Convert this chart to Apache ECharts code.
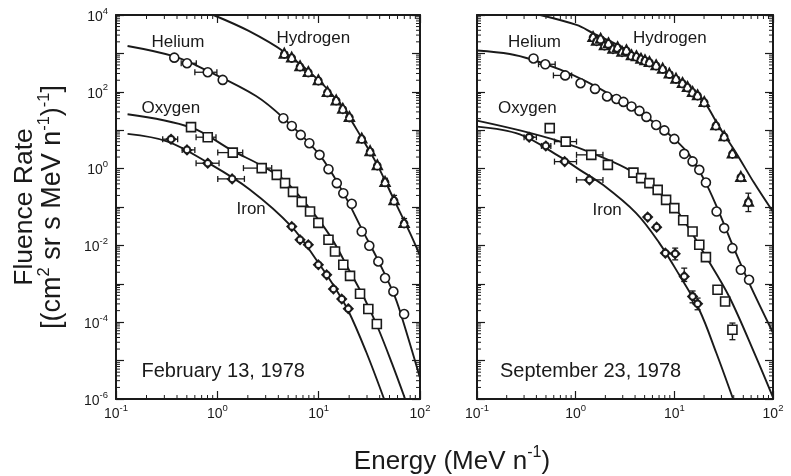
<!DOCTYPE html>
<html>
<head>
<meta charset="utf-8">
<title>Fluence rate spectra, 1978</title>
<script src="https://cdn.jsdelivr.net/npm/echarts@6/dist/echarts.min.js"></script>
<style>
  html, body { margin: 0; padding: 0; background: #ffffff; }
  #chart { width: 791px; height: 476px; }
</style>
</head>
<body>
<div id="chart"></div>
<script>
// ---- axis ranges and tick values ----
const X_RANGE = [0.1, 100];
const Y_RANGE = [1e-6, 1e4];
const xDecades = [0.1, 1, 10, 100];
const yDecades = [1e-6, 1e-5, 1e-4, 1e-3, 1e-2, 1e-1, 1, 10, 100, 1e3, 1e4];
const minorSteps = [2, 3, 4, 5, 6, 7, 8, 9];

// ---- February 13, 1978: fitted spectra [energy, fluence rate] ----
const febHydrogenFit = [[0.913, 1e4], [2.04, 3840], [4.58, 1090], [9.93, 204], [17.3, 38], [26.6, 6.3], [37.9, 1.25], [55.5, 0.153], [79.8, 0.0208], [100, 0.0054]];
const febHeliumFit = [[0.13, 1560], [0.376, 832], [0.804, 349], [2.41, 78], [4.48, 20.9], [10.2, 2.28], [17.5, 0.233], [26.6, 0.027], [38.8, 0.00397], [54.6, 5.83e-4], [63.7, 1.87e-4], [100, 3.58e-6]];
const febOxygenFit = [[0.13, 26.1], [0.55, 11.8], [1.42, 2.89], [2.76, 1.18], [4.66, 0.479], [8.22, 0.0895], [12.96, 0.0177], [20.4, 0.00206], [28.7, 3.84e-4], [38.8, 6.75e-5], [53.0, 8.3e-6], [71.3, 1e-6]];
const febIronFit = [[0.13, 8.0], [0.324, 5.05], [0.804, 1.43], [2.07, 0.291], [5.43, 0.0304], [9.93, 0.00352], [13.9, 9.4e-4], [19.6, 1.99e-4], [29.4, 1.7e-5], [44.2, 1e-6]];

// ---- February 13, 1978: measurements ----
const febHydrogen = [[4.58, 1007], [5.42, 794], [6.55, 471], [7.91, 335], [9.93, 204], [12.2, 101], [14.9, 61], [17.3, 37], [20.1, 22.6], [26.6, 6.2], [32.2, 2.9], [37.9, 1.25], [45.2, 0.46], [55.5, 0.153], [69.7, 0.039]];
const febHelium = [[0.376, 774], [0.502, 554], [0.804, 323], [1.13, 204], [4.48, 20.5], [5.43, 12.9], [6.65, 7.54], [8.09, 4.59], [10.2, 2.28], [12.5, 0.966], [15.1, 0.418], [17.5, 0.229], [21.2, 0.121], [26.6, 0.023], [31.6, 0.00975], [38.8, 0.00381], [45.2, 0.00141], [54.6, 6.3e-4], [69.7, 1.63e-4]];
const febOxygen = [[0.55, 12.0], [0.804, 6.57], [1.42, 2.61], [2.74, 1.03], [3.86, 0.687], [4.66, 0.418], [5.58, 0.248], [6.81, 0.136], [8.22, 0.0762], [9.93, 0.0387], [12.5, 0.014], [14.5, 0.00693], [17.5, 0.00313], [20.4, 0.00161], [25.6, 5.5e-4], [30.9, 2.2e-4], [37.5, 8.95e-5]];
const febIron = [[0.349, 5.83], [0.502, 3.07], [0.804, 1.38], [1.40, 0.54], [5.43, 0.031], [6.55, 0.014], [7.91, 0.01035], [9.93, 0.00313], [12.0, 0.00171], [14.0, 7.3e-4], [16.9, 4.0e-4], [19.6, 2.24e-4]];

// energy-bin widths [energy, rate, low, high] and rate uncertainties [energy, rate, low, high]
const febEnergyBars = [[0.502, 554, 0.44, 0.62], [0.804, 323, 0.60, 0.99], [0.804, 6.57, 0.617, 0.97], [1.42, 2.61, 1.01, 1.78], [2.74, 1.03, 1.81, 3.44], [0.349, 5.83, 0.289, 0.406], [0.502, 3.07, 0.45, 0.60], [0.804, 1.38, 0.617, 1.04], [1.40, 0.54, 1.01, 1.85]];
const febRateBars = [[45.2, 0.46, 0.38, 0.56], [55.5, 0.153, 0.12, 0.2], [69.7, 0.039, 0.03, 0.05]];

// ---- September 23, 1978: fitted spectra ----
const sepHydrogenFit = [[0.436, 1e4], [1.02, 5500], [1.51, 3340], [2.80, 1560], [4.83, 716], [10.4, 236], [14.2, 134], [20.1, 54.5], [28.5, 12.2], [42.3, 2.56], [64.3, 0.425], [100, 0.0748]];
const sepHeliumFit = [[0.1, 1192], [0.215, 966], [0.359, 695], [0.689, 382], [1.29, 184], [2.59, 68], [4.10, 31.8], [6.54, 14.6], [10, 5.93], [14.2, 2.27], [20.1, 0.508], [26.4, 0.114], [38.8, 0.0104], [57.2, 0.00106], [100, 5.31e-5]];
const sepOxygenFit = [[0.1, 17.8], [0.272, 9.88], [0.689, 5.11], [1.45, 2.56], [3.77, 0.822], [8.25, 0.163], [12.0, 0.0522], [20.9, 0.00514], [35.9, 4.68e-4], [66.9, 1.29e-5], [100, 1.1e-6]];
const sepIronFit = [[0.1, 12.4], [0.272, 7.77], [0.689, 2.05], [1.10, 0.927], [1.89, 0.377], [4.10, 0.0692], [7.06, 0.01146], [11.2, 0.00171], [17.9, 2.11e-4], [26.6, 1.6e-5], [39.4, 1e-6]];

// ---- September 23, 1978: measurements ----
const sepHydrogen = [[1.50, 2725], [1.63, 2170], [1.79, 2447], [1.96, 1657], [2.15, 1868], [2.39, 1344], [2.66, 1470], [2.95, 1122], [3.27, 1228], [3.68, 910], [4.13, 857], [4.59, 738], [5.04, 675], [5.59, 609], [6.54, 500], [7.62, 410], [8.90, 304], [10.4, 225], [12.1, 173], [13.6, 136], [15.3, 101], [17.2, 82.8], [20.1, 55.5], [26.4, 13.7], [32.0, 7.10], [38.8, 2.52], [47.2, 0.62], [56.3, 0.139]];
const sepHelium = [[0.374, 738], [0.492, 521], [0.783, 267], [1.12, 167], [1.57, 119], [2.08, 75.7], [2.59, 65.2], [3.05, 54.5], [3.68, 41.6], [4.43, 31.8], [5.21, 22.2], [6.54, 13.7], [7.93, 9.88], [10, 5.93], [12.6, 2.42], [15.3, 1.54], [17.9, 0.927], [20.9, 0.433], [26.8, 0.0762], [32.0, 0.0282], [38.8, 0.00849], [47.2, 0.00232], [57.2, 0.00127]];
const sepOxygen = [[0.546, 11.3], [0.793, 5.05], [1.44, 2.28], [2.12, 1.25], [3.85, 0.787], [4.61, 0.564], [5.59, 0.418], [6.78, 0.279], [8.25, 0.153], [10, 0.0933], [12.3, 0.045], [15.3, 0.023], [17.9, 0.0104], [20.9, 0.00495], [27.4, 6.98e-4], [32.7, 3.47e-4], [38.8, 6.35e-5]];
const sepIron = [[0.338, 6.57], [0.498, 3.90], [0.774, 1.52], [1.38, 0.508], [5.37, 0.0545], [6.62, 0.0299], [8.11, 0.0063], [10.2, 0.00604], [12.6, 0.00155], [15.3, 4.68e-4], [17.2, 3.02e-4]];

const sepEnergyBars = [[0.492, 521, 0.42, 0.62], [0.783, 267, 0.595, 0.91], [0.793, 5.05, 0.61, 1.02], [1.44, 2.28, 1.02, 1.89], [0.338, 6.57, 0.30, 0.40], [0.498, 3.90, 0.45, 0.56], [0.774, 1.52, 0.61, 1.02], [1.38, 0.508, 1.02, 1.89]];
const sepRateBars = [[56.3, 0.139, 0.076, 0.229], [38.8, 6.35e-5, 3.5e-5, 9.5e-5], [10.2, 0.00604, 0.0042, 0.0085], [12.6, 0.00155, 0.00115, 0.00256], [15.3, 4.68e-4, 3.2e-4, 6.5e-4], [17.2, 3.02e-4, 2.11e-4, 4.25e-4]];

// ---- styling ----
const FONT = '"Liberation Sans", Arial, Helvetica, sans-serif';
const INK = '#1a1a1a';
const HYDROGEN_SYMBOL = 'path://M10,0.8L18.8,16.2L1.2,16.2Z M16.3,10.6A6.3,6.3 0 1 1 3.7,10.6A6.3,6.3 0 1 1 16.3,10.6Z';
const IRON_SYMBOL = 'path://M10,1L19,10L10,19L1,10Z M16.4,10A6.4,6.4 0 1 1 3.6,10A6.4,6.4 0 1 1 16.4,10Z';

const TICK_RICH = {
  b: { fontFamily: FONT, fontSize: 14, lineHeight: 18, verticalAlign: 'bottom', color: INK },
  s: { fontFamily: FONT, fontSize: 9.5, lineHeight: 10, verticalAlign: 'top', color: INK }
};

function powerLabel(v) {
  const e = Math.round(Math.log10(v));
  return '{b|10}{s|' + e + '}';
}
function evenPowerLabel(v) {
  const e = Math.round(Math.log10(v));
  return e % 2 === 0 ? powerLabel(v) : '';
}

function makeX(gi, position, withLabels) {
  return {
    type: 'log', logBase: 10, gridIndex: gi, position: position,
    min: X_RANGE[0], max: X_RANGE[1], interval: 1,
    axisLine: { show: true, lineStyle: { color: INK, width: 2 } },
    axisTick: { show: true, inside: true, length: 8, lineStyle: { color: INK, width: 1.2 } },
    axisLabel: { show: withLabels, margin: 4, formatter: powerLabel, rich: TICK_RICH, hideOverlap: false },
    splitLine: { show: false },
    axisPointer: { show: false }
  };
}
function makeY(gi, position, withLabels) {
  return {
    type: 'log', logBase: 10, gridIndex: gi, position: position,
    min: Y_RANGE[0], max: Y_RANGE[1], interval: 1,
    axisLine: { show: true, lineStyle: { color: INK, width: 2 } },
    axisTick: { show: true, inside: true, length: 8, lineStyle: { color: INK, width: 1.2 } },
    axisLabel: { show: withLabels, margin: 8, formatter: evenPowerLabel, rich: TICK_RICH, hideOverlap: false },
    splitLine: { show: false },
    axisPointer: { show: false }
  };
}

// minor tick values (2..9 within each decade)
function minorValues(decades, top) {
  const out = [];
  decades.forEach(d => minorSteps.forEach(m => { const v = d * m; if (v < top) out.push(v); }));
  return out;
}
const xMinor = minorValues(xDecades, X_RANGE[1]);
const yMinor = minorValues(yDecades, Y_RANGE[1]);
const MINOR_LEN = 4;

function tickLine(x1, y1, x2, y2, w) {
  return { type: 'line', shape: { x1, y1, x2, y2 }, style: { stroke: INK, lineWidth: w || 1 } };
}

function minorTickSeries(gi) {
  const ax = { xAxisIndex: gi * 2, yAxisIndex: gi * 2 };
  return [
    Object.assign({
      type: 'custom', silent: true, z: 6,
      data: xMinor.map(v => [v, Y_RANGE[0]]),
      renderItem: function (params, api) {
        const v = api.value(0);
        const b = api.coord([v, Y_RANGE[0]]);
        const t = api.coord([v, Y_RANGE[1]]);
        return { type: 'group', children: [
          tickLine(b[0], b[1], b[0], b[1] - MINOR_LEN),
          tickLine(t[0], t[1], t[0], t[1] + MINOR_LEN)
        ] };
      }
    }, ax),
    Object.assign({
      type: 'custom', silent: true, z: 6,
      data: yMinor.map(v => [X_RANGE[0], v]),
      renderItem: function (params, api) {
        const v = api.value(1);
        const l = api.coord([X_RANGE[0], v]);
        const r = api.coord([X_RANGE[1], v]);
        return { type: 'group', children: [
          tickLine(l[0], l[1], l[0] + MINOR_LEN, l[1]),
          tickLine(r[0], r[1], r[0] - MINOR_LEN, r[1])
        ] };
      }
    }, ax)
  ];
}

const CAP = 3;
function energyBarSeries(data, gi) {
  return {
    type: 'custom', xAxisIndex: gi * 2, yAxisIndex: gi * 2, silent: true, z: 4,
    data: data,
    encode: { x: 0, y: 1 },
    renderItem: function (params, api) {
      const y = api.value(1);
      const a = api.coord([api.value(2), y]);
      const b = api.coord([api.value(3), y]);
      return { type: 'group', children: [
        tickLine(a[0], a[1], b[0], b[1], 1.3),
        tickLine(a[0], a[1] - CAP, a[0], a[1] + CAP, 1.3),
        tickLine(b[0], b[1] - CAP, b[0], b[1] + CAP, 1.3)
      ] };
    }
  };
}
function rateBarSeries(data, gi) {
  return {
    type: 'custom', xAxisIndex: gi * 2, yAxisIndex: gi * 2, silent: true, z: 4,
    data: data,
    encode: { x: 0, y: 1 },
    renderItem: function (params, api) {
      const x = api.value(0);
      const a = api.coord([x, api.value(2)]);
      const b = api.coord([x, api.value(3)]);
      return { type: 'group', children: [
        tickLine(a[0], a[1], b[0], b[1], 1.3),
        tickLine(a[0] - CAP, a[1], a[0] + CAP, a[1], 1.3),
        tickLine(b[0] - CAP, b[1], b[0] + CAP, b[1], 1.3)
      ] };
    }
  };
}

function fitSeries(data, gi) {
  return {
    type: 'line', xAxisIndex: gi * 2, yAxisIndex: gi * 2,
    data: data, showSymbol: false, symbol: 'none', smooth: 0.35, clip: true,
    lineStyle: { color: INK, width: 1.9 }, silent: true, z: 3
  };
}
function pointSeries(data, gi, symbol, size, width) {
  return {
    type: 'scatter', xAxisIndex: gi * 2, yAxisIndex: gi * 2,
    data: data, symbol: symbol, symbolSize: size, silent: true, z: 5,
    itemStyle: { color: '#ffffff', borderColor: INK, borderWidth: width, opacity: 1 }
  };
}

const panels = [
  { fits: [febHydrogenFit, febHeliumFit, febOxygenFit, febIronFit],
    points: [febHydrogen, febHelium, febOxygen, febIron],
    energyBars: febEnergyBars, rateBars: febRateBars },
  { fits: [sepHydrogenFit, sepHeliumFit, sepOxygenFit, sepIronFit],
    points: [sepHydrogen, sepHelium, sepOxygen, sepIron],
    energyBars: sepEnergyBars, rateBars: sepRateBars }
];
// [symbol, size, stroke width] for hydrogen, helium, oxygen, iron
const speciesSymbols = [[HYDROGEN_SYMBOL, 10, 1.6], ['circle', 9, 1.6], ['rect', 9, 1.6], [IRON_SYMBOL, 9, 1.8]];

const series = [];
panels.forEach((p, gi) => {
  p.fits.forEach(f => series.push(fitSeries(f, gi)));
  series.push(energyBarSeries(p.energyBars, gi));
  series.push(rateBarSeries(p.rateBars, gi));
  p.points.forEach((pts, k) => {
    const s = speciesSymbols[k];
    series.push(pointSeries(pts, gi, s[0], s[1], s[2]));
  });
  minorTickSeries(gi).forEach(s => series.push(s));
});

// ---- text annotations ----
function note(text, x, y, size) {
  return {
    type: 'text', x: x, y: y, silent: true, z: 10,
    style: { text: text, fontFamily: FONT, fontSize: size, fill: INK, align: 'left', verticalAlign: 'middle' }
  };
}
const SUP_RICH = (base, sup) => ({
  a: { fontFamily: FONT, fontSize: base, lineHeight: base + 4, verticalAlign: 'bottom', fill: INK },
  s: { fontFamily: FONT, fontSize: sup, lineHeight: sup, verticalAlign: 'top', fill: INK }
});

const graphic = [
  note('Helium', 151.5, 42.5, 17),
  note('Hydrogen', 276.5, 38.5, 17),
  note('Oxygen', 141.5, 108.5, 17),
  note('Iron', 236.5, 209.5, 17),
  note('February 13, 1978', 141.5, 371.5, 20),
  note('Helium', 508, 42.5, 17),
  note('Hydrogen', 633, 38.5, 17),
  note('Oxygen', 498, 108.5, 17),
  note('Iron', 592.5, 210.5, 17),
  note('September 23, 1978', 500, 371.5, 20),
  {
    type: 'text', x: 452, y: 460, silent: true, z: 10,
    style: {
      text: '{a|Energy (MeV n}{s|-1}{a|)}', rich: SUP_RICH(26, 16),
      align: 'center', verticalAlign: 'middle'
    }
  },
  {
    type: 'text', x: 25, y: 207, rotation: Math.PI / 2, silent: true, z: 10,
    style: {
      text: 'Fluence Rate', fontFamily: FONT, fontSize: 26.5, fill: INK,
      align: 'center', verticalAlign: 'middle'
    }
  },
  {
    type: 'text', x: 51, y: 207, rotation: Math.PI / 2, silent: true, z: 10,
    style: {
      text: '{a|[(cm}{s|2}{a| sr s MeV n}{s|-1}{a|)}{s|-1}{a|]}', rich: SUP_RICH(27, 16.5),
      align: 'center', verticalAlign: 'middle'
    }
  }
];

const chart = echarts.init(document.getElementById('chart'), null, { renderer: 'canvas' });
chart.setOption({
  animation: false,
  backgroundColor: '#ffffff',
  textStyle: { fontFamily: FONT, color: INK },
  grid: [
    { left: 116, top: 15, width: 304, height: 384 },
    { left: 477, top: 15, width: 296, height: 384 }
  ],
  xAxis: [makeX(0, 'bottom', true), makeX(0, 'top', false), makeX(1, 'bottom', true), makeX(1, 'top', false)],
  yAxis: [makeY(0, 'left', true), makeY(0, 'right', false), makeY(1, 'left', false), makeY(1, 'right', false)],
  series: series,
  graphic: graphic
});
</script>
</body>
</html>
